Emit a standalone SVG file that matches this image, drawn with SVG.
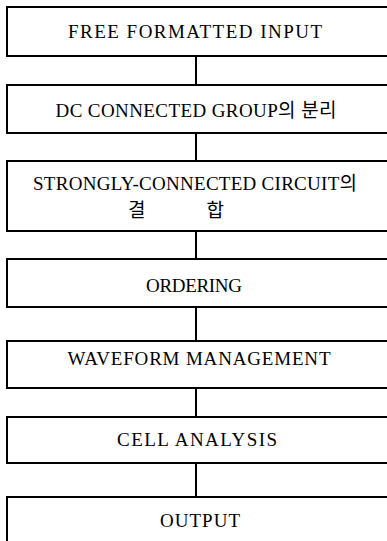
<svg xmlns="http://www.w3.org/2000/svg" width="387" height="541" viewBox="0 0 387 541">
<style>
.box{fill:#fff;stroke:#000;stroke-width:2}
.t{font-family:"Liberation Serif","Noto Sans CJK KR",serif;font-size:19px;fill:#000;text-anchor:middle}
.c{stroke:#000;stroke-width:2;fill:none}
</style>
<rect width="387" height="541" fill="#fff"/>
<g id="connectors">
<line class="c" x1="196" y1="56" x2="196" y2="85"/>
<line class="c" x1="196" y1="133" x2="196" y2="161"/>
<line class="c" x1="196" y1="231" x2="196" y2="259"/>
<line class="c" x1="196" y1="307" x2="196" y2="341"/>
<line class="c" x1="196" y1="388" x2="196" y2="417"/>
<line class="c" x1="196" y1="463" x2="196" y2="497"/>
</g>
<g id="n1"><rect class="box" x="7" y="7" width="400" height="49"/>
<text class="t" x="195" y="38" textLength="254" lengthAdjust="spacing">FREE FORMATTED INPUT</text></g>
<g id="n2"><rect class="box" x="7" y="85" width="400" height="48"/>
<text class="t" x="196" y="117" textLength="281" lengthAdjust="spacing">DC CONNECTED GROUP의 분리</text></g>
<g id="n3"><rect class="box" x="7" y="161" width="400" height="70"/>
<text class="t" x="195" y="190" textLength="324" lengthAdjust="spacing">STRONGLY-CONNECTED CIRCUIT의</text>
<text class="t" x="176" y="217" textLength="96" lengthAdjust="spacing">결      합</text></g>
<g id="n4"><rect class="box" x="7" y="259" width="400" height="48"/>
<text class="t" x="194" y="292" textLength="96" lengthAdjust="spacing">ORDERING</text></g>
<g id="n5"><rect class="box" x="7" y="341" width="400" height="47"/>
<text class="t" x="199" y="365" textLength="263" lengthAdjust="spacing">WAVEFORM MANAGEMENT</text></g>
<g id="n6"><rect class="box" x="7" y="417" width="400" height="46"/>
<text class="t" x="197" y="446" textLength="160" lengthAdjust="spacing">CELL ANALYSIS</text></g>
<g id="n7"><rect class="box" x="7" y="497" width="400" height="60"/>
<text class="t" x="200" y="527" textLength="80" lengthAdjust="spacing">OUTPUT</text></g>
</svg>
